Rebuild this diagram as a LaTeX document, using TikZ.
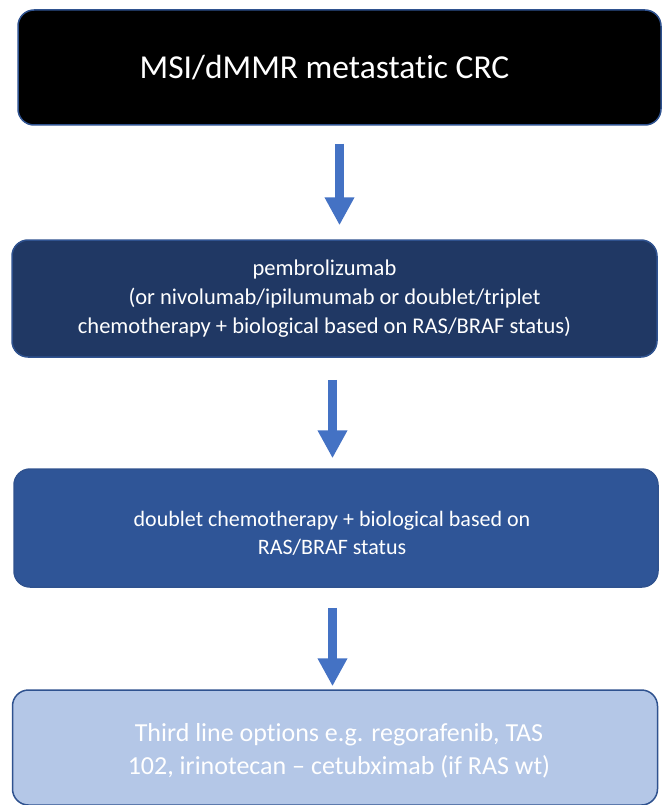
\documentclass[tikz,border=0pt]{standalone}
\usepackage{fontspec}
\setmainfont{Carlito}[Ligatures=CommonOff]
\usetikzlibrary{arrows.meta}
\definecolor{edgeblue}{HTML}{2F528F}
\definecolor{navy}{HTML}{203864}
\definecolor{midblue}{HTML}{2F5597}
\definecolor{paleblue}{HTML}{B4C7E7}
\definecolor{arrowblue}{HTML}{4472C4}
\begin{document}
\begin{tikzpicture}[x=1pt,y=-1pt,
  box/.style={draw=edgeblue, line width=1.5pt, rounded corners=16pt, align=center,
    text=white, inner sep=0pt},
  arr/.style={draw=arrowblue, line width=9pt,
    -{Triangle[width=28pt,length=28pt]}}]
\useasboundingbox (0,0) rectangle (663,805);
\node[box, fill=black, minimum width=643pt, minimum height=115pt,
  font=\fontsize{33.5}{40}\selectfont] (b1) at (339.5,67.5)
  {MSI/dMMR metastatic CRC\hspace*{30pt}};
\node[box, fill=navy, minimum width=645pt, minimum height=117pt,
  font=\fontsize{22.5}{29}\selectfont] (b2) at (334.5,298.5)
  {pembrolizumab\hspace*{20pt}\\(or nivolumab/ipilumumab or doublet/triplet\hspace*{20pt}\\chemotherapy + biological based on RAS/BRAF status)\hspace*{20pt}};
\node[box, fill=midblue, minimum width=644pt, minimum height=118pt,
  font=\fontsize{22}{28}\selectfont] (b3) at (336,528)
  {\rule{0pt}{25pt}doublet chemotherapy + biological based on\hspace*{8pt}\\RAS/BRAF status\hspace*{8pt}};
\node[box, fill=paleblue, minimum width=645pt, minimum height=115pt,
  font=\fontsize{26}{33}\selectfont] (b4) at (335,747.5)
  {\hspace*{8pt}\rule{0pt}{24pt}Third line options e.g. regorafenib, TAS\\\hspace*{8pt}102, irinotecan -- cetubximab (if RAS wt)};
\draw[arr, shorten <=18pt, shorten >=14pt] (b1.south) -- (b1.south |- b2.north);
\draw[arr, shorten <=22pt, shorten >=10pt] ([xshift=-2pt]b2.south) -- ([xshift=-2pt]b2.south |- b3.north);
\draw[arr, shorten <=20pt, shorten >=3pt] ([xshift=-3.5pt]b3.south) -- ([xshift=-3.5pt]b3.south |- b4.north);
\end{tikzpicture}
\end{document}
